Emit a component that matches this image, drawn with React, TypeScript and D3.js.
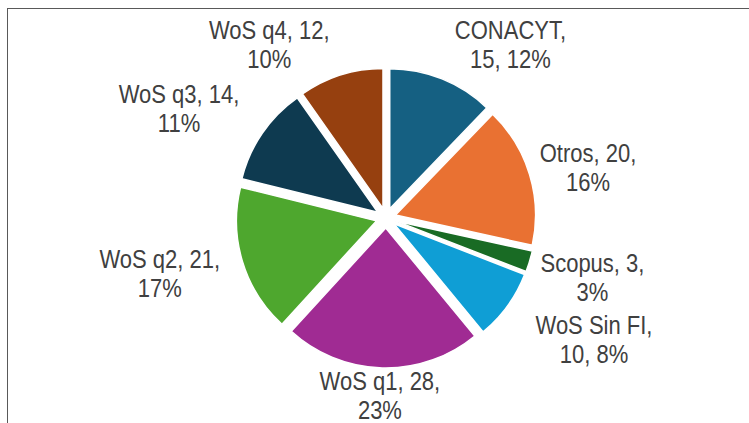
import * as d3 from 'd3';

// slice data, clockwise from 12 o'clock
const categories = ['CONACYT', 'Otros', 'Scopus', 'WoS Sin FI', 'WoS q1', 'WoS q2', 'WoS q3', 'WoS q4'];
const values = [15, 20, 3, 10, 28, 21, 14, 12];
const percents = ['12%', '16%', '3%', '8%', '23%', '17%', '11%', '10%'];
const colors = ['#156082', '#E97132', '#196B24', '#0F9ED5', '#A02B93', '#4EA72E', '#0E3A50', '#96400F'];
// labels that wrap right after the category name
const wrapAfterName = ['CONACYT', 'WoS Sin FI'];

// label layout: angle nudge (deg) from slice bisector and distance from center
const labelNudge = [13.8, 3, -0.6, -5.5, 0.5, 3, -6.6, -16.4];
const labelDist = [213, 208, 215, 241, 178, 233, 234, 209];

const W = 749;
const H = 423;
const cx = 386;
const cy = 218;
const radius = 140;
const explode = 10;
const lineGap = 29;
const squeeze = 0.88; // fake a narrow face, no condensed font installed

type Row = { name: string; value: number; pct: string; color: string };

const rows: Row[] = categories.map((name, i) => ({
    name,
    value: values[i],
    pct: percents[i],
    color: colors[i],
}));

const App = () => {
    const pie = d3.pie<Row>().sort(null).value(d => d.value);
    const arcs = pie(rows);
    const arc = d3.arc<d3.PieArcDatum<Row>>().innerRadius(0).outerRadius(radius);

    return (
        <svg width={W} height={H} style={{ position: 'absolute', left: 0, top: 0, background: '#fff' }}>
            {/* chart area frame */}
            <rect x={7.5} y={8.5} width={W + 20} height={H + 20} fill="#fff" stroke="#595959" strokeWidth={1} />

            <g transform={`translate(${cx},${cy})`}>
                {arcs.map((a, i) => {
                    const mid = (a.startAngle + a.endAngle) / 2;
                    const dx = Math.sin(mid) * explode;
                    const dy = -Math.cos(mid) * explode;
                    return (
                        <path
                            key={i}
                            d={arc(a) ?? ''}
                            transform={`translate(${dx},${dy})`}
                            fill={a.data.color}
                            stroke="#fff"
                            strokeWidth={1.5}
                        />
                    );
                })}

                {arcs.map((a, i) => {
                    const mid = (a.startAngle + a.endAngle) / 2 + (labelNudge[i] * Math.PI) / 180;
                    const lx = Math.sin(mid) * labelDist[i];
                    const ly = -Math.cos(mid) * labelDist[i];
                    const d = a.data;
                    const lines = wrapAfterName.includes(d.name)
                        ? [`${d.name},`, `${d.value}, ${d.pct}`]
                        : [`${d.name}, ${d.value},`, d.pct];
                    return (
                        <text
                            key={`l${i}`}
                            transform={`translate(${lx},${ly}) scale(${squeeze},1)`}
                            textAnchor="middle"
                            fontFamily="'Liberation Sans', Arial, sans-serif"
                            fontSize={25}
                            fill="#404040"
                        >
                            {lines.map((t, j) => (
                                <tspan key={j} x={0} y={(j - 0.5) * lineGap} dominantBaseline="central">
                                    {t}
                                </tspan>
                            ))}
                        </text>
                    );
                })}
            </g>
        </svg>
    );
};

export default App;
